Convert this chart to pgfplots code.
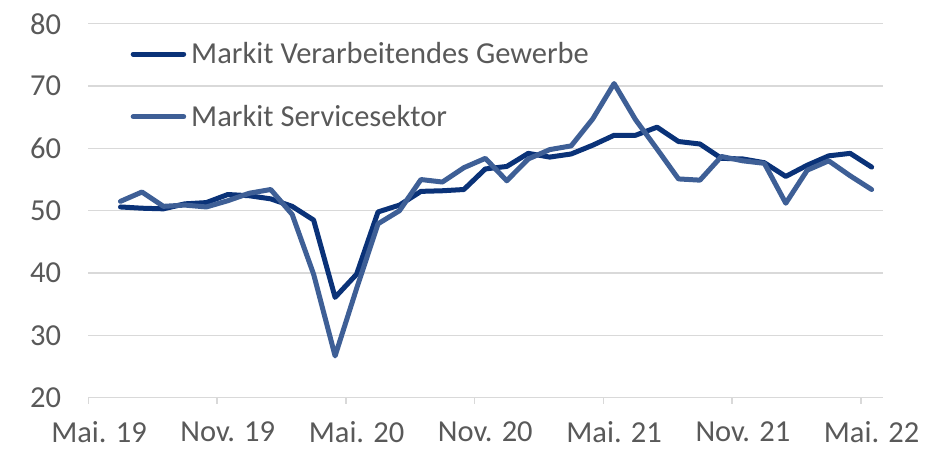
\documentclass[border=0pt]{standalone}
\usepackage{pgfplots}
\pgfplotsset{compat=1.18}
\usepackage{pgfplotstable}
\usepackage{fontspec}
\setmainfont{Carlito}
\definecolor{darkline}{RGB}{10,50,120}
\definecolor{lightline}{RGB}{62,95,150}
\definecolor{txt}{RGB}{89,89,89}
\definecolor{gridc}{RGB}{217,217,217}

\pgfplotstableread{
x y
1.5 50.6
2.5 50.4
3.5 50.3
4.5 51.1
5.5 51.3
6.5 52.6
7.5 52.4
8.5 51.9
9.5 50.7
10.5 48.5
11.5 36.1
12.5 39.8
13.5 49.8
14.5 50.9
15.5 53.1
16.5 53.2
17.5 53.4
18.5 56.7
19.5 57.1
20.5 59.2
21.5 58.6
22.5 59.1
23.5 60.5
24.5 62.1
25.5 62.1
26.5 63.4
27.5 61.1
28.5 60.7
29.5 58.4
30.5 58.3
31.5 57.7
32.5 55.5
33.5 57.3
34.5 58.8
35.5 59.2
36.5 57.0
}\manu

\pgfplotstableread{
x y
1.5 51.5
2.5 53.0
3.5 50.7
4.5 50.9
5.5 50.6
6.5 51.6
7.5 52.8
8.5 53.4
9.5 49.4
10.5 39.8
11.5 26.7
12.5 37.5
13.5 47.9
14.5 50.0
15.5 55.0
16.5 54.6
17.5 56.9
18.5 58.4
19.5 54.8
20.5 58.3
21.5 59.8
22.5 60.4
23.5 64.7
24.5 70.4
25.5 64.6
26.5 59.9
27.5 55.1
28.5 54.9
29.5 58.7
30.5 58.0
31.5 57.6
32.5 51.2
33.5 56.5
34.5 58.0
35.5 55.6
36.5 53.4
}\serv

\begin{document}
\begin{tikzpicture}
\useasboundingbox (-88.3bp,-52.3bp) rectangle (851.7bp,397.7bp);
\begin{axis}[
  at={(0,0)}, anchor=south west,
  scale only axis, width=794.7bp, height=374bp,
  xmin=0, xmax=37.03, ymin=20, ymax=80,
  ytick={20,30,...,80},
  xtick={0.5,6.5,...,36.5},
  xticklabels={Mai. 19, Nov. 19, Mai. 20, Nov. 20, Mai. 21, Nov. 21, Mai. 22},
  minor xtick={0,6,...,36},
  major tick length=0pt, minor tick length=6bp,
  tick align=outside, xtick pos=left, ytick pos=left,
  axis line style={draw=none},
  ymajorgrids, major grid style={draw=gridc, line width=1.5bp},
  minor tick style={draw=gridc, line width=1.5bp},
  ytick style={draw=none},
  ticklabel style={font=\fontsize{30.5bp}{36bp}\selectfont, text=txt},
  yticklabel style={anchor=east, inner sep=0pt, xshift=-27bp},
  xticklabel style={anchor=north, inner sep=0pt, yshift=-24bp},
  /pgf/number format/assume math mode=true,
  clip=false,
  legend style={at={(0.0531,0.9497)}, anchor=north west, draw=none, fill=none,
    inner sep=0pt, row sep=40bp, column sep=5bp,
    font=\fontsize{30.5bp}{36bp}\selectfont, text=txt, nodes={inner sep=0pt}},
  legend cell align=left,
  legend image code/.code={\draw[#1, line width=5bp, line cap=round] (2.5bp,0bp) -- (53bp,0bp);},
]
\addplot[darkline, line width=5bp, line join=round, line cap=round, no markers] table[x=x,y=y] {\manu};
\addlegendentry{Markit Verarbeitendes Gewerbe}
\addplot[lightline, line width=5bp, line join=round, line cap=round, no markers] table[x=x,y=y] {\serv};
\addlegendentry{Markit Servicesektor}
\end{axis}
\end{tikzpicture}
\end{document}
